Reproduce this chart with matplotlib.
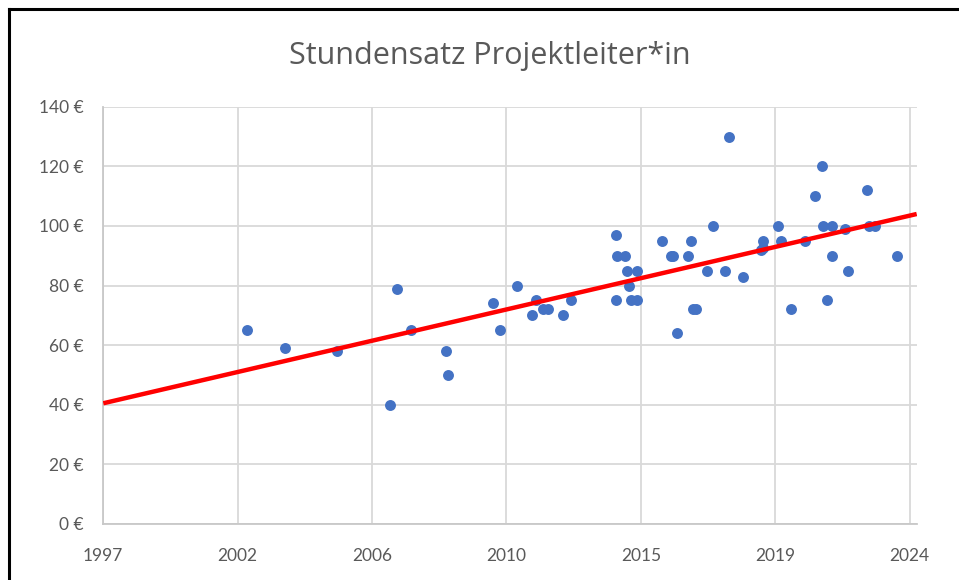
import matplotlib
matplotlib.use("Agg")
import matplotlib.pyplot as plt
from matplotlib.lines import Line2D
import numpy as np

# Data (fractional years, hourly rate in €)
years = [2002.39, 2003.65, 2005.36, 2007.08, 2007.30, 2007.76, 2008.92, 2009.00,
         2010.47, 2010.69, 2011.23, 2011.74, 2011.86, 2012.10, 2012.25, 2012.74,
         2013.00, 2014.50, 2014.50, 2014.52, 2014.78, 2014.83, 2014.92, 2014.97,
         2015.16, 2015.16, 2015.98, 2016.27, 2016.35, 2016.47, 2016.85, 2016.93,
         2017.01, 2017.12, 2017.48, 2017.65, 2018.05, 2018.19, 2018.63, 2019.23,
         2019.30, 2019.30, 2019.80, 2019.88, 2020.21, 2020.68, 2021.00, 2021.22,
         2021.25, 2021.40, 2021.56, 2021.56, 2021.98, 2022.07, 2022.69, 2022.77,
         2022.96, 2023.69]
rates = [65, 59, 58, 40, 79, 65, 58, 50,
         74, 65, 80, 70, 75, 72, 72, 70,
         75, 97, 75, 90, 90, 85, 80, 75,
         85, 75, 95, 90, 90, 64, 90, 95,
         72, 72, 85, 100, 85, 130, 83, 92,
         95, 92.5, 100, 95, 72, 95, 110, 120,
         100, 75, 100, 90, 99, 85, 112, 100,
         100, 90]

x_tick_pos = [1997.7, 2002.1, 2006.5, 2010.9, 2015.3, 2019.7, 2024.1]
x_tick_labels = ["1997", "2002", "2006", "2010", "2015", "2019", "2024"]
y_ticks = [0, 20, 40, 60, 80, 100, 120, 140]
y_tick_labels = [f"{v} €" for v in y_ticks]
x_min, x_max = 1997.7, 2024.33

title = "Stundensatz Projektleiter*in"

plt.rcParams['font.family'] = ['Lato', 'DejaVu Sans']

fig = plt.figure(figsize=(9.59, 5.80), dpi=100)
ax = fig.add_axes([103.3/959, 1 - 524/580, (916.7-103.3)/959, (524-106.7)/580])

grid_c = "#D9D9D9"
text_c = "#595959"

ax.set_xlim(x_min, x_max)
ax.set_ylim(0, 140)
ax.set_xticks(x_tick_pos, x_tick_labels)
ax.set_yticks(y_ticks, y_tick_labels)
ax.grid(True, color=grid_c, linewidth=1.3, zorder=0)
ax.set_axisbelow(True)
ax.tick_params(length=0, labelsize=12.5, colors=text_c)
ax.tick_params(axis='x', pad=17)
ax.tick_params(axis='y', pad=14)
for s in ['top', 'right']:
    ax.spines[s].set_visible(False)
for s in ['left', 'bottom']:
    ax.spines[s].set_color("#C8C8C8")
    ax.spines[s].set_linewidth(1.3)

ax.scatter(years, rates, s=62, color="#4472C4", zorder=3, linewidths=0)

coef = np.polyfit(years, rates, 1)
xs = np.array([x_min, x_max])
ax.plot(xs, np.polyval(coef, xs), color="#FF0000", linewidth=3.2, zorder=4,
        solid_capstyle='butt')
ax.set_xlim(x_min, x_max)

fig.text(490/959, 1 - 64/580, title, ha='center', va='baseline', fontsize=22,
         color=text_c, family=['Open Sans', 'DejaVu Sans'])

fig.add_artist(Line2D([8.5/959, 1], [1 - 8.5/580, 1 - 8.5/580], color='black',
                      linewidth=2.2, transform=fig.transFigure))
fig.add_artist(Line2D([8.5/959, 8.5/959], [0, 1 - 8.5/580], color='black',
                      linewidth=2.2, transform=fig.transFigure))

fig.savefig("out.png", dpi=100)
